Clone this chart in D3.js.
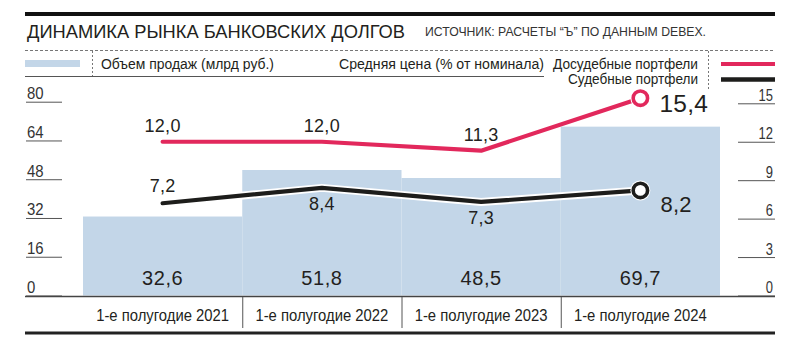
<!DOCTYPE html>
<html><head><meta charset="utf-8">
<script src="https://cdn.jsdelivr.net/npm/d3@7/dist/d3.min.js"></script>
<style>
html,body{margin:0;padding:0;background:#fff;}
svg{display:block;font-family:"Liberation Sans",Arial,sans-serif;}
</style></head>
<body><svg id="c" width="800" height="344"></svg>
<script>
const title = "ДИНАМИКА РЫНКА БАНКОВСКИХ ДОЛГОВ";
const source = "ИСТОЧНИК: РАСЧЕТЫ “Ъ” ПО ДАННЫМ DEBEX.";
const categories = ["1-е полугодие 2021","1-е полугодие 2022","1-е полугодие 2023","1-е полугодие 2024"];
const volume = [32.6, 51.8, 48.5, 69.7];          // Объем продаж (млрд руб.)
const preTrial = [12.0, 12.0, 11.3, 15.4];        // Досудебные портфели
const judicial = [7.2, 8.4, 7.3, 8.2];            // Судебные портфели
const leftTicks = [0, 16, 32, 48, 64, 80];
const rightTicks = [0, 3, 6, 9, 12, 15];
const legendVolume = "Объем продаж (млрд руб.)";
const legendPrice = "Средняя цена (% от номинала)";
const legendPre = "Досудебные портфели";
const legendJud = "Судебные портфели";

const RED = "#e2285c", BLACK = "#1d1d1b", BLUE = "#c3d6e8", TXT = "#231f20";
const fmt = v => d3.format(".1f")(v).replace(".", ",");

const svg = d3.select("#c");

// header
svg.append("rect").attr("x",25).attr("y",12).attr("width",750).attr("height",4).attr("fill","#111");
svg.append("text").attr("x",27).attr("y",38).attr("font-size",19).attr("fill",TXT)
  .attr("textLength",378).attr("lengthAdjust","spacingAndGlyphs").text(title);
svg.append("text").attr("x",425).attr("y",35.5).attr("font-size",13.5).attr("fill","#333")
  .attr("textLength",281).attr("lengthAdjust","spacingAndGlyphs").text(source);
svg.append("line").attr("x1",25).attr("x2",775).attr("y1",50.5).attr("y2",50.5)
  .attr("stroke","#777").attr("stroke-dasharray","3,2").attr("stroke-width",1);

// legend
svg.append("rect").attr("x",25).attr("y",60).attr("width",55).attr("height",7).attr("fill",BLUE);
svg.append("line").attr("x1",92.5).attr("x2",92.5).attr("y1",51).attr("y2",76)
  .attr("stroke","#777").attr("stroke-dasharray","2,2");
svg.append("line").attr("x1",708.5).attr("x2",708.5).attr("y1",51).attr("y2",89)
  .attr("stroke","#777").attr("stroke-dasharray","2,2");
svg.append("line").attr("x1",25).attr("x2",544).attr("y1",76.5).attr("y2",76.5)
  .attr("stroke","#555").attr("stroke-width",1);
const legT = (x, y, t, w, anchor) => svg.append("text").attr("x",x).attr("y",y)
  .attr("font-size",15.5).attr("fill",TXT).attr("text-anchor",anchor||"start")
  .attr("textLength",w).attr("lengthAdjust","spacingAndGlyphs").text(t);
legT(101, 68.5, legendVolume, 173);
legT(339, 68.5, legendPrice, 205);
legT(553, 68.5, legendPre, 145);
legT(568, 84, legendJud, 130);
svg.append("line").attr("x1",721).attr("x2",775).attr("y1",64).attr("y2",64).attr("stroke",RED).attr("stroke-width",4);
svg.append("line").attr("x1",721).attr("x2",775).attr("y1",79.5).attr("y2",79.5).attr("stroke",BLACK).attr("stroke-width",4.5);

// scales
const x = d3.scaleBand().domain(categories).range([83, 720]).padding(0);
const yL = d3.scaleLinear().domain([0, 80]).range([295.5, 101.7]);
const yR = d3.scaleLinear().domain([0, 15]).range([295.5, 103.3]);
const cx = c => x(c) + x.bandwidth() / 2;

// bars
svg.append("g").selectAll("rect").data(volume).join("rect")
  .attr("x",(d,i)=>x(categories[i])).attr("width",x.bandwidth())
  .attr("y",d=>yL(d)).attr("height",d=>yL(0)-yL(d)).attr("fill",BLUE);
svg.append("g").selectAll("text").data(volume).join("text")
  .attr("x",(d,i)=>cx(categories[i])).attr("y",285).attr("text-anchor","middle")
  .attr("font-size",20).attr("letter-spacing",0.6).attr("fill",TXT).text(d=>fmt(d));

// left axis
const gL = svg.append("g").attr("transform","translate(26,0)")
  .call(d3.axisRight(yL).tickValues(leftTicks).tickSize(36).tickFormat(d3.format("d")));
gL.select(".domain").remove();
gL.selectAll(".tick line").attr("stroke","#555");
gL.selectAll(".tick text").attr("x",1).attr("dy",-3).attr("text-anchor","start")
  .attr("font-size",16.5).attr("fill","#333").attr("font-family","Liberation Sans, Arial, sans-serif")
  .attr("textLength",d=>String(d).length*8.3).attr("lengthAdjust","spacingAndGlyphs");

// right axis
const gR = svg.append("g").attr("transform","translate(775,0)")
  .call(d3.axisLeft(yR).tickValues(rightTicks).tickSize(37).tickFormat(d3.format("d")));
gR.select(".domain").remove();
gR.selectAll(".tick line").attr("stroke","#555");
gR.selectAll(".tick text").attr("x",-2).attr("dy",-3).attr("text-anchor","end")
  .attr("font-size",16).attr("fill","#333").attr("font-family","Liberation Sans, Arial, sans-serif")
  .attr("textLength",d=>String(d).length*7.2).attr("lengthAdjust","spacingAndGlyphs");

// baseline & category axis
svg.append("line").attr("x1",25).attr("x2",775).attr("y1",296.5).attr("y2",296.5)
  .attr("stroke","#444").attr("stroke-width",1.5);
const gX = svg.append("g").attr("transform","translate(0,296)")
  .call(d3.axisBottom(x).tickSize(0).tickPadding(0));
gX.select(".domain").remove();
gX.selectAll(".tick text").attr("y",25).attr("dy",0).attr("font-size",16.5).attr("fill",TXT)
  .attr("font-family","Liberation Sans, Arial, sans-serif")
  .attr("textLength",133).attr("lengthAdjust","spacingAndGlyphs");
svg.append("g").selectAll("line").data(categories.slice(1)).join("line")
  .attr("x1",d=>x(d)+0.5).attr("x2",d=>x(d)+0.5).attr("y1",297).attr("y2",328)
  .attr("stroke","#555").attr("stroke-width",1);
svg.append("line").attr("x1",25).attr("x2",775).attr("y1",333).attr("y2",333)
  .attr("stroke","#222").attr("stroke-width",3);

// lines
const line = d3.line().x((d,i)=>cx(categories[i])).y(d=>yR(d));
function drawSeries(data, color, halo) {
  const g = svg.append("g");
  if (halo) g.append("path").attr("d",line(data)).attr("fill","none").attr("stroke","#fff")
    .attr("stroke-width",8).attr("stroke-linejoin","round").attr("stroke-linecap","round");
  g.append("path").attr("d",line(data)).attr("fill","none").attr("stroke",color)
    .attr("stroke-width",4.2).attr("stroke-linejoin","round").attr("stroke-linecap","round");
  const last = data.length - 1;
  g.append("circle").attr("cx",cx(categories[last])).attr("cy",yR(data[last])).attr("r",10).attr("fill","#fff");
  g.append("circle").attr("cx",cx(categories[last])).attr("cy",yR(data[last])).attr("r",7.2)
    .attr("fill","#fff").attr("stroke",color).attr("stroke-width",3.6);
  return g;
}
drawSeries(judicial, BLACK, true);
drawSeries(preTrial, RED, false);

// line labels
const lbl = (x0, y0, t, size, anchor) => svg.append("text").attr("x",x0).attr("y",y0)
  .attr("font-size",size).attr("fill",TXT).attr("text-anchor",anchor).attr("letter-spacing",0.3).text(t);
preTrial.forEach((v,i)=>{
  const px = cx(categories[i]), py = yR(v);
  if (i === preTrial.length-1) lbl(px+19, py+14, fmt(v), 24.5, "start");
  else lbl(px, py-10, fmt(v), 18, "middle");
});
judicial.forEach((v,i)=>{
  const px = cx(categories[i]), py = yR(v);
  if (i === judicial.length-1) lbl(px+20, py+22, fmt(v), 22, "start");
  else if (i === 0) lbl(px, py-11, fmt(v), 18, "middle");
  else lbl(px, py+22.5, fmt(v), 18, "middle");
});
</script></body></html>
